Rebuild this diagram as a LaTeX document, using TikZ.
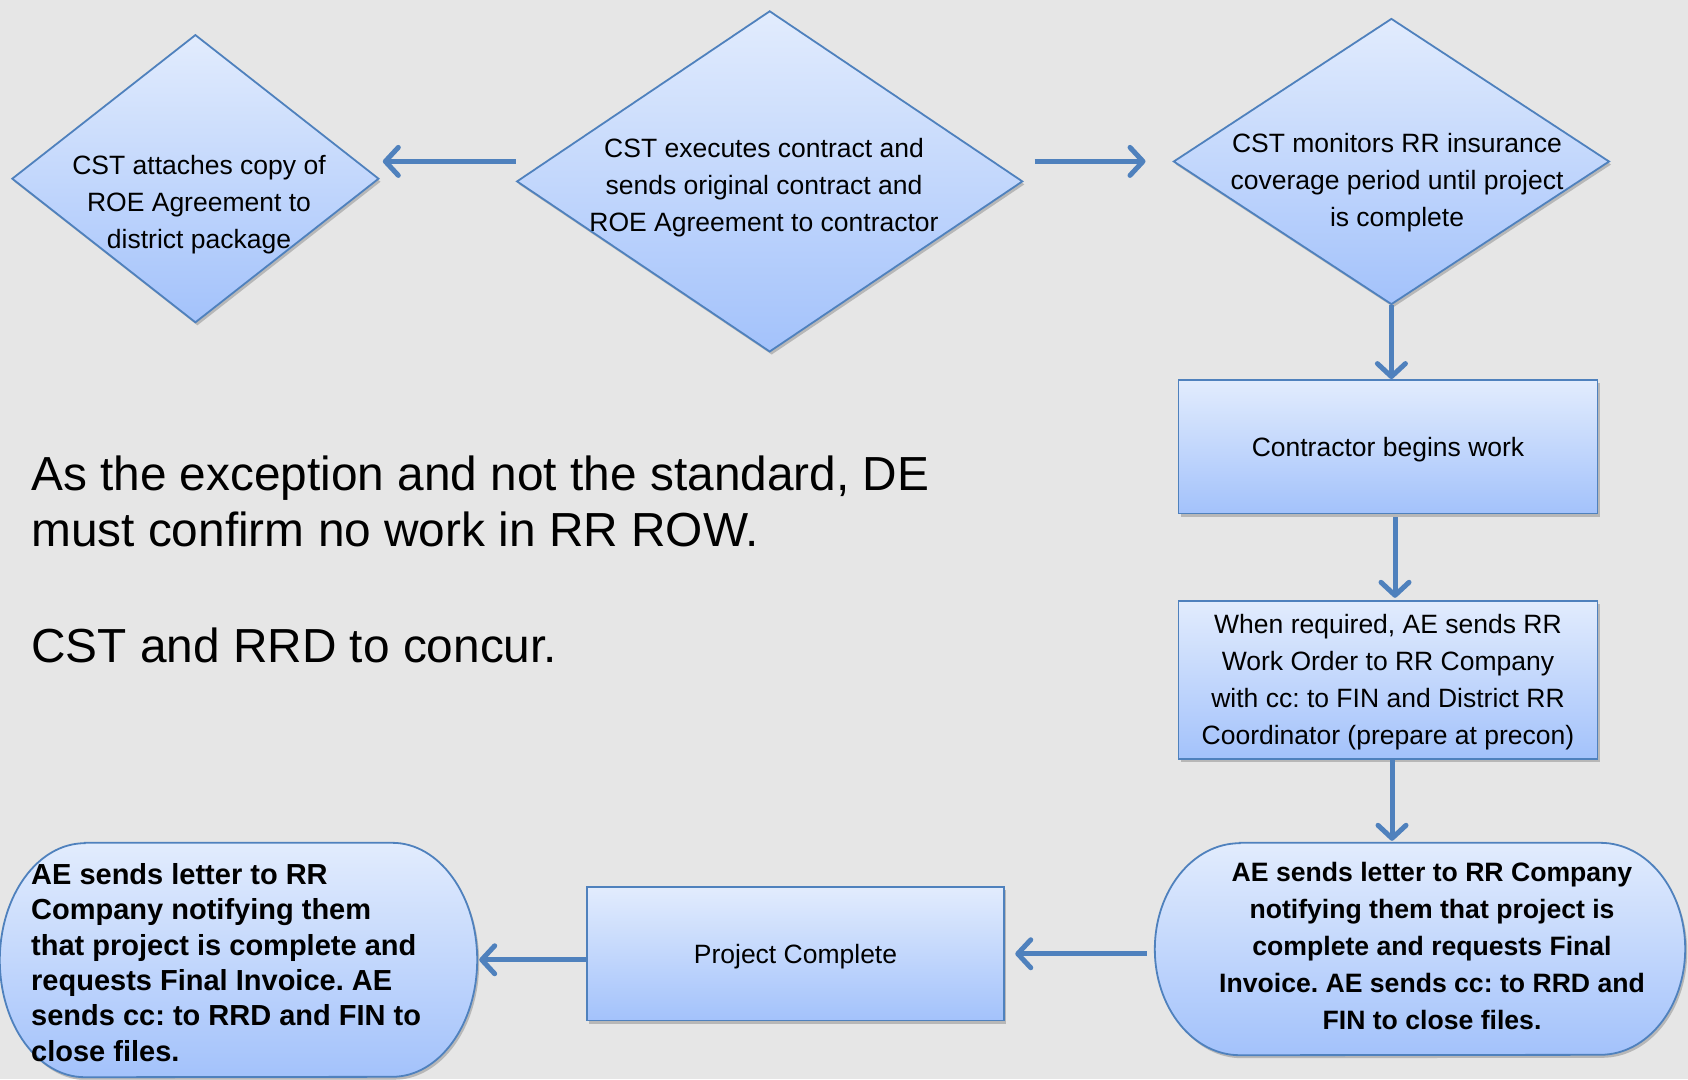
\documentclass[tikz,border=0pt]{standalone}
\usepackage{fontspec}
\setmainfont{Liberation Sans}
\usetikzlibrary{shapes.geometric,arrows.meta,shadows}
\definecolor{bgc}{RGB}{230,230,230}
\definecolor{edgec}{RGB}{79,129,189}
\definecolor{ftop}{RGB}{226,236,253}
\definecolor{fbot}{RGB}{163,194,251}
\definecolor{arrc}{RGB}{79,129,189}
\frenchspacing
\begin{document}
\frenchspacing
\begin{tikzpicture}[x=1pt,y=1pt,
  shapefill/.style={draw=edgec, line width=1.8pt, top color=ftop, bottom color=fbot,
    drop shadow={shadow xshift=2pt,shadow yshift=-3pt,opacity=0.3,fill=black!70}},
  dia/.style={shapefill, diamond, inner sep=0pt},
  boxnode/.style={shapefill, rectangle, inner sep=0pt, align=center, text depth=0pt, font=\fontsize{26.5}{37}\selectfont},
  txt/.style={align=center, text depth=0pt, font=\fontsize{26.5}{37}\selectfont, inner sep=0pt},
  btxt/.style={font=\fontsize{26.6}{37}\selectfont\bfseries, inner sep=0pt},
  arr/.style={draw=arrc, line width=5pt, -{Straight Barb[length=13pt,width=28pt,round]}},
]
\path[fill=bgc] (0,0) rectangle (1688,-1079);
\useasboundingbox (0,0) rectangle (1688,-1079);

% diamonds
\node[dia, minimum width=367pt, minimum height=288pt] (d1) at (195.4,-178.7) {};
\node[dia, minimum width=506pt, minimum height=341pt] (d2) at (769.7,-181.4) {};
\node[dia, minimum width=436pt, minimum height=286pt] (d3) at (1391.4,-161.5) {};
\node[txt] (d1t) at (199,-202) {CST attaches copy of\\ROE Agreement to\\district package};
\node[txt] (d2t) at (764,-185) {CST executes contract and\\sends original contract and\\ROE Agreement to contractor};
\node[txt] (d3t) at (1397,-180) {CST monitors RR insurance\\coverage period until project\\is complete};

% boxes
\node[boxnode, minimum width=419pt, minimum height=133.5pt] (b1) at (1388,-446.75) {Contractor begins work};
\node[boxnode, minimum width=419pt, minimum height=158.3pt] (b2) at (1388,-679.85) {When required, AE sends RR\\Work Order to RR Company\\with cc: to FIN and District RR\\Coordinator (prepare at precon)};
\node[boxnode, minimum width=417.7pt, minimum height=133.5pt] (pc) at (795.5,-953.75) {Project Complete};

% terminators
\node[inner sep=0pt, minimum width=530pt, minimum height=212pt] (t1) at (1420,-949) {};
\path[shapefill] ([xshift=85pt]t1.north west) -- ([xshift=-85pt]t1.north east)
  arc[start angle=90,end angle=-90,x radius=85pt,y radius=106pt]
  -- ([xshift=85pt]t1.south west)
  arc[start angle=270,end angle=90,x radius=85pt,y radius=106pt] -- cycle;
\node[btxt, align=center] (t1t) at (1432,-946) {AE sends letter to RR Company\\notifying them that project is\\complete and requests Final\\Invoice. AE sends cc: to RRD and\\FIN to close files.};

\node[inner sep=0pt, minimum width=477pt, minimum height=234pt] (t2) at (238.5,-960) {};
\path[shapefill] ([xshift=85pt]t2.north west) -- ([xshift=-85pt]t2.north east)
  arc[start angle=90,end angle=-90,x radius=85pt,y radius=117pt]
  -- ([xshift=85pt]t2.south west)
  arc[start angle=270,end angle=90,x radius=85pt,y radius=117pt] -- cycle;
\node[inner sep=0pt, align=left, anchor=west, font=\fontsize{29}{35.4}\selectfont\bfseries] (t2t) at (31,-962.5) {AE sends letter to RR\\Company notifying them\\that project is complete and\\requests Final Invoice. AE\\sends cc: to RRD and FIN to\\close files.};

% notes
\node[inner sep=0pt, align=left, anchor=north west, font=\fontsize{47.8}{56}\selectfont] (note1) at (31,-456) {As the exception and not the standard, DE\\must confirm no work in RR ROW.};
\node[inner sep=0pt, align=left, anchor=north west, font=\fontsize{47.8}{56}\selectfont] (note2) at (31,-628) {CST and RRD to concur.};

% connectors
\coordinate (a1s) at ([yshift=20pt]d2.west);
\draw[arr, shorten >=3pt] (a1s) -- (d1.east |- a1s);
\coordinate (a2s) at ([xshift=11pt,yshift=20pt]d2.east);
\draw[arr, shorten >=27pt] (a2s) -- (d3.west |- a2s);
\draw[arr] (d3.south) -- (d3.south |- b1.north);
\coordinate (a4s) at ([xshift=7pt]b1.south);
\draw[arr, shorten <=3pt, shorten >=2pt] (a4s) -- (a4s |- b2.north);
\coordinate (a5s) at ([xshift=4pt]b2.south);
\draw[arr, shorten >=2pt] (a5s) -- (a5s |- t1.north);
\draw[arr, shorten <=8pt, shorten >=10pt] (t1.west |- pc.east) -- (pc.east);
\coordinate (a7s) at ([yshift=-6pt]pc.west);
\draw[arr, shorten >=2pt] (a7s) -- (t2.east |- a7s);
\end{tikzpicture}
\end{document}
